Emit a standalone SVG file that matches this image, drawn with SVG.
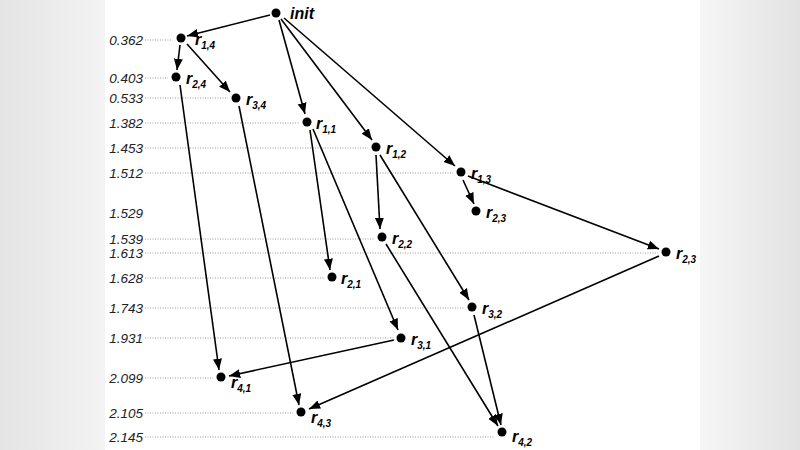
<svg xmlns="http://www.w3.org/2000/svg" width="800" height="450" viewBox="0 0 800 450">
<defs>
<linearGradient id="gl" x1="0" x2="1"><stop offset="0" stop-color="#e4e4e4"/><stop offset="1" stop-color="#f3f3f3"/></linearGradient>
<linearGradient id="gr" x1="0" x2="1"><stop offset="0" stop-color="#f6f6f6"/><stop offset="1" stop-color="#e2e2e2"/></linearGradient>
<marker id="a" viewBox="0 0 10 10" refX="10" refY="5" markerWidth="7" markerHeight="7" orient="auto"><path d="M0,1 L10,5 L0,9 z" fill="#000"/></marker>
</defs>
<style>
.t{font-family:"Liberation Sans",Arial,sans-serif;font-style:italic;font-size:13.5px;fill:#222;text-anchor:end}
.d{stroke:#999;stroke-width:1;stroke-dasharray:1,1.5}
.n{font-family:"Liberation Sans",Arial,sans-serif;font-style:italic;font-weight:bold;font-size:16px;fill:#000}
.s{font-size:10px}
.e{stroke:#000;stroke-width:1.6;fill:none;marker-end:url(#a)}
</style>
<rect width="800" height="450" fill="#fff"/>
<rect width="105" height="450" fill="url(#gl)"/>
<rect x="700" width="100" height="450" fill="url(#gr)"/>
<g id="axis">
<text class="t" x="143" y="45">0.362</text><line class="d" x1="145" y1="40" x2="172" y2="40"/>
<text class="t" x="143" y="83">0.403</text><line class="d" x1="145" y1="78" x2="168" y2="78"/>
<text class="t" x="143" y="103">0.533</text><line class="d" x1="145" y1="98" x2="228" y2="98"/>
<text class="t" x="143" y="128">1.382</text><line class="d" x1="145" y1="123" x2="299" y2="123"/>
<text class="t" x="143" y="153">1.453</text><line class="d" x1="145" y1="148" x2="368" y2="148"/>
<text class="t" x="143" y="178">1.512</text><line class="d" x1="145" y1="173" x2="453" y2="173"/>
<text class="t" x="143" y="218">1.529</text>
<text class="t" x="143" y="244">1.539</text><line class="d" x1="145" y1="239" x2="374" y2="239"/>
<text class="t" x="143" y="258">1.613</text><line class="d" x1="145" y1="253" x2="658" y2="253"/>
<text class="t" x="143" y="283">1.628</text><line class="d" x1="145" y1="278" x2="324" y2="278"/>
<text class="t" x="143" y="313">1.743</text><line class="d" x1="145" y1="308" x2="464" y2="308"/>
<text class="t" x="143" y="343">1.931</text><line class="d" x1="145" y1="338" x2="393" y2="338"/>
<text class="t" x="143" y="383">2.099</text><line class="d" x1="145" y1="378" x2="213" y2="378"/>
<text class="t" x="143" y="418">2.105</text><line class="d" x1="145" y1="413" x2="293" y2="413"/>
<text class="t" x="143" y="442">2.145</text><line class="d" x1="145" y1="437" x2="494" y2="437"/>
</g>
<g id="connectors">
<line class="e" x1="270" y1="15" x2="187" y2="36"/>
<line class="e" x1="279" y1="20" x2="305" y2="114"/>
<line class="e" x1="281" y1="19" x2="372" y2="140"/>
<line class="e" x1="284" y1="18" x2="455" y2="166"/>
<line class="e" x1="180" y1="45" x2="177" y2="70"/>
<line class="e" x1="187" y1="44" x2="230" y2="92"/>
<line class="e" x1="180" y1="85" x2="219" y2="370"/>
<line class="e" x1="239" y1="106" x2="299" y2="405"/>
<line class="e" x1="310" y1="130" x2="330" y2="270"/>
<line class="e" x1="313" y1="129" x2="398" y2="330"/>
<line class="e" x1="376" y1="155" x2="380" y2="229"/>
<line class="e" x1="380" y1="155" x2="469" y2="300"/>
<line class="e" x1="463" y1="180" x2="474" y2="204"/>
<line class="e" x1="468" y1="176" x2="659" y2="249"/>
<line class="e" x1="386" y1="244" x2="498" y2="426"/>
<line class="e" x1="474" y1="315" x2="501" y2="425"/>
<line class="e" x1="394" y1="340" x2="229" y2="376"/>
<line class="e" x1="659" y1="256" x2="309" y2="409"/>
</g>
<g id="init"><circle cx="276" cy="13" r="4.5"/><text class="n" x="290" y="19">init</text></g>
<g id="r14"><circle cx="181" cy="38" r="4.5"/><text class="n" x="195" y="45">r<tspan class="s" dy="4">1,4</tspan></text></g>
<g id="r24"><circle cx="176" cy="77" r="4.5"/><text class="n" x="186" y="84">r<tspan class="s" dy="4">2,4</tspan></text></g>
<g id="r34"><circle cx="236" cy="98" r="4.5"/><text class="n" x="246" y="105">r<tspan class="s" dy="4">3,4</tspan></text></g>
<g id="r11"><circle cx="307" cy="122" r="4.5"/><text class="n" x="316" y="129">r<tspan class="s" dy="4">1,1</tspan></text></g>
<g id="r12"><circle cx="376" cy="147" r="4.5"/><text class="n" x="386" y="154">r<tspan class="s" dy="4">1,2</tspan></text></g>
<g id="r13"><circle cx="461" cy="172" r="4.5"/><text class="n" x="471" y="179">r<tspan class="s" dy="4">1,3</tspan></text></g>
<g id="r23a"><circle cx="476" cy="211" r="4.5"/><text class="n" x="486" y="218">r<tspan class="s" dy="4">2,3</tspan></text></g>
<g id="r22"><circle cx="382" cy="237" r="4.5"/><text class="n" x="392" y="244">r<tspan class="s" dy="4">2,2</tspan></text></g>
<g id="r23b"><circle cx="666" cy="252" r="4.5"/><text class="n" x="676" y="259">r<tspan class="s" dy="4">2,3</tspan></text></g>
<g id="r21"><circle cx="332" cy="277" r="4.5"/><text class="n" x="341" y="284">r<tspan class="s" dy="4">2,1</tspan></text></g>
<g id="r32"><circle cx="472" cy="307" r="4.5"/><text class="n" x="482" y="314">r<tspan class="s" dy="4">3,2</tspan></text></g>
<g id="r31"><circle cx="401" cy="338" r="4.5"/><text class="n" x="411" y="345">r<tspan class="s" dy="4">3,1</tspan></text></g>
<g id="r41"><circle cx="221" cy="377" r="4.5"/><text class="n" x="231" y="388">r<tspan class="s" dy="4">4,1</tspan></text></g>
<g id="r43"><circle cx="301" cy="412" r="4.5"/><text class="n" x="311" y="423">r<tspan class="s" dy="4">4,3</tspan></text></g>
<g id="r42"><circle cx="502" cy="432" r="4.5"/><text class="n" x="512" y="442">r<tspan class="s" dy="4">4,2</tspan></text></g>
</svg>
